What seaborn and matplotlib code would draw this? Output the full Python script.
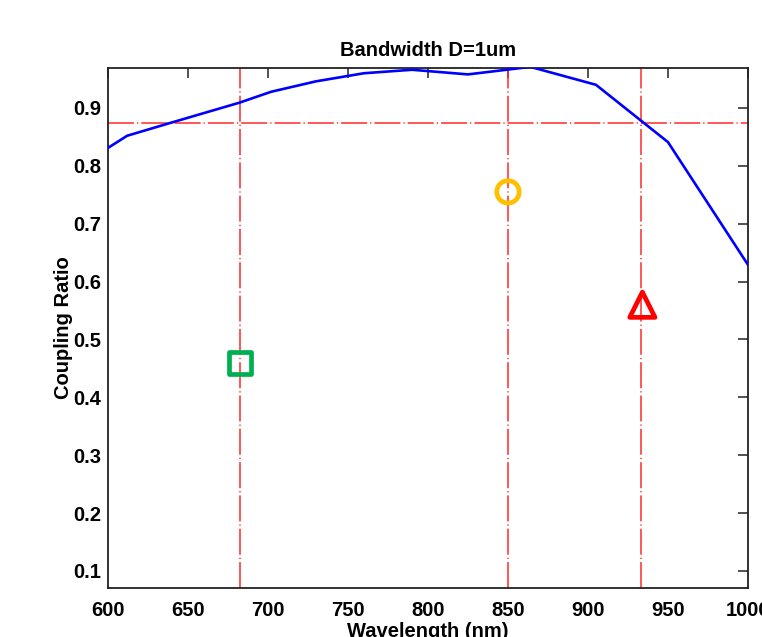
import matplotlib
matplotlib.use("Agg")
import matplotlib.pyplot as plt
import pandas as pd
import seaborn as sns

# coupling ratio curve
wavelength = [600, 612, 640, 682, 702, 730, 760, 790, 825, 864, 905, 950, 1000]
coupling = [0.831, 0.852, 0.875, 0.909, 0.928, 0.946, 0.960, 0.966, 0.958, 0.971, 0.940, 0.841, 0.629]

# guide lines
guide_x = [682.5, 850, 933]
guide_y = 0.874

# marked points
mark_x = [682.5, 850, 934]
mark_y = [0.459, 0.755, 0.560]
mark_names = ["square", "circle", "triangle"]
mark_colors = ["#00b050", "#ffc000", "#ff0000"]
mark_shapes = ["s", "o", "^"]
mark_sizes = [250, 260, 330]

xticks = [600, 650, 700, 750, 800, 850, 900, 950, 1000]
yticks = [0.1, 0.2, 0.3, 0.4, 0.5, 0.6, 0.7, 0.8, 0.9]

sns.set_theme(style="white")
plt.rcParams["font.family"] = ["Liberation Sans", "DejaVu Sans"]
plt.rcParams["font.weight"] = "bold"
plt.rcParams["text.color"] = "black"
plt.rcParams["axes.labelcolor"] = "black"
plt.rcParams["xtick.color"] = "black"
plt.rcParams["ytick.color"] = "black"

fig = plt.figure(figsize=(7.62, 6.37), dpi=100)
ax = fig.add_axes([0.1417, 0.0769, 0.8399, 0.8163])

curve = pd.DataFrame({"wl": wavelength, "cr": coupling})
sns.lineplot(data=curve, x="wl", y="cr", color="blue", linewidth=1.9, ax=ax, zorder=3)

dash = (0, (17, 2.0, 0.8, 2.0))
for gx in guide_x:
    ax.axvline(gx, color="#ff2a2a", linewidth=1.1, linestyle=dash, zorder=2)
ax.axhline(guide_y, color="#ff2a2a", linewidth=1.1, linestyle=dash, zorder=2)

marks = pd.DataFrame({"x": mark_x, "y": mark_y, "name": mark_names, "sz": mark_sizes})
sns.scatterplot(data=marks, x="x", y="y", hue="name", style="name", size="sz",
                sizes=(min(mark_sizes), max(mark_sizes)),
                palette=dict(zip(mark_names, mark_colors)),
                markers=dict(zip(mark_names, mark_shapes)),
                linewidth=3.4, legend=False, ax=ax, zorder=4)
for coll in ax.collections:
    fc = coll.get_facecolors()
    coll.set_edgecolors(fc)
    coll.set_facecolors("none")

ax.set_xlim(600, 1000)
ax.set_ylim(0.0705, 0.969)
ax.set_xticks(xticks)
ax.set_xticklabels([str(t) for t in xticks])
ax.set_yticks(yticks)
ax.set_yticklabels([f"{t:.1f}" for t in yticks])
ax.tick_params(direction="in", length=7, width=1.1, color="#222222",
               top=True, right=True, labelsize=14.5)
ax.tick_params(axis="x", pad=9)
ax.tick_params(axis="y", pad=5)
for lab in ax.get_xticklabels() + ax.get_yticklabels():
    lab.set_fontweight("bold")
for sp in ax.spines.values():
    sp.set_color("#222222")
    sp.set_linewidth(1.3)

ax.set_title("Bandwidth D=1um", fontsize=14.5, fontweight="bold", pad=9)
ax.set_xlabel("Wavelength (nm)", fontsize=14.5, fontweight="bold", labelpad=2)
ax.set_ylabel("Coupling Ratio", fontsize=14.5, fontweight="bold", labelpad=0)

fig.savefig("out.png", dpi=100)
